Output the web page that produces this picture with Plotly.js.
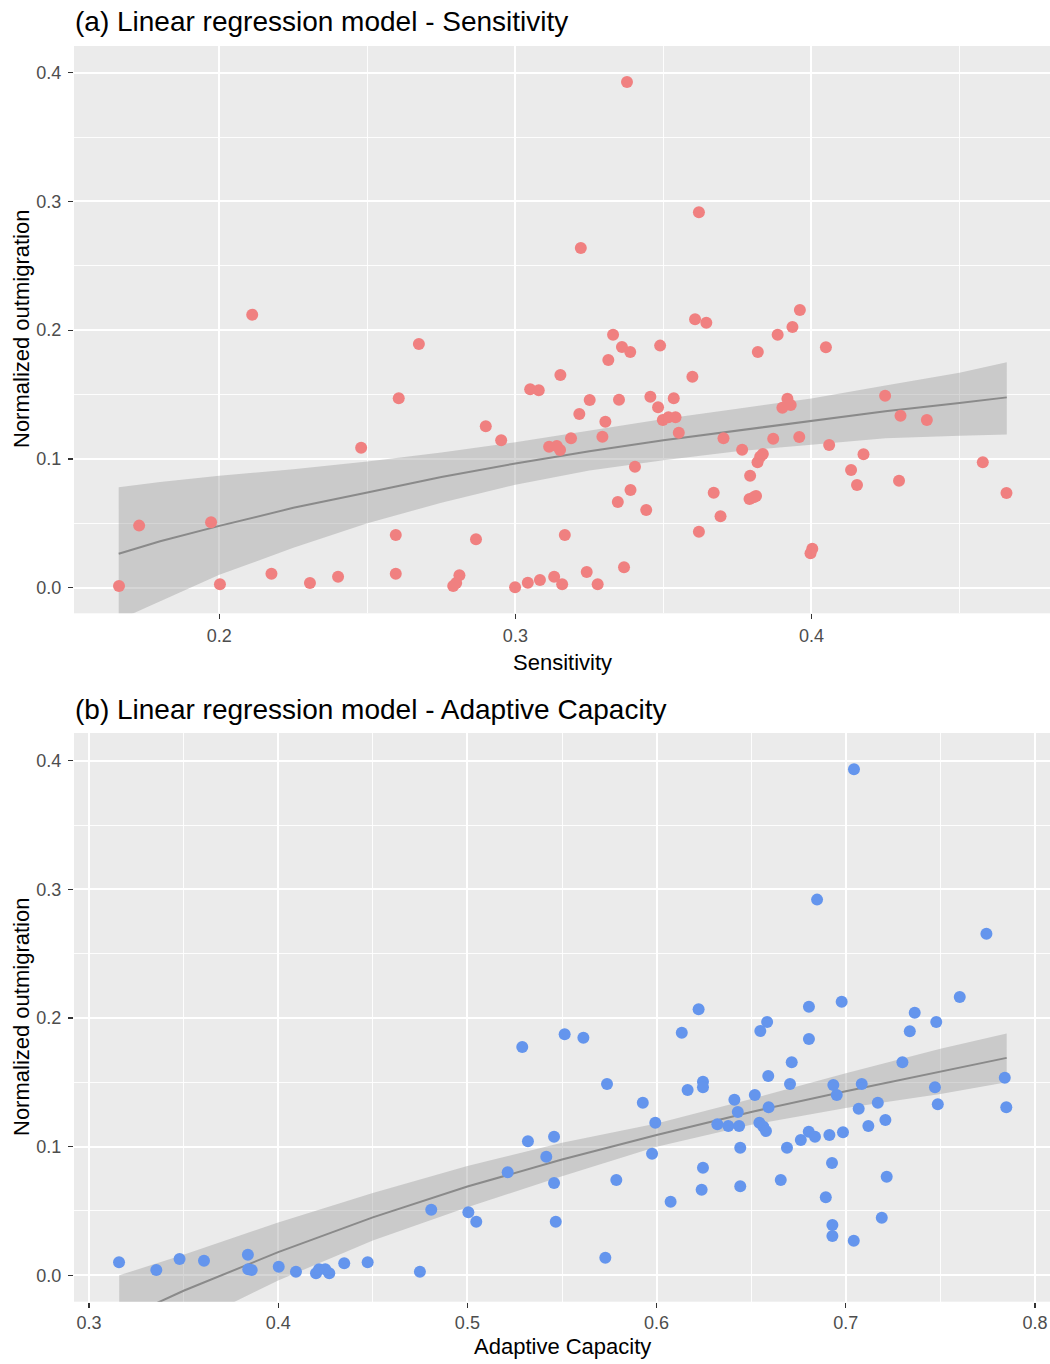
<!DOCTYPE html>
<html>
<head>
<meta charset="utf-8">
<script src="https://cdn.plot.ly/plotly-3.0.1.min.js"></script>
<style>
  html, body { margin: 0; padding: 0; background: #ffffff; }
  #chart { width: 1050px; height: 1364px; }
</style>
</head>
<body>
<div id="chart"></div>
<script>
// ---------- Panel (a): Sensitivity ----------
const sensX = [0.1661, 0.1729, 0.1972, 0.2111, 0.2002, 0.2176, 0.2306, 0.2401, 0.2479, 0.2606,
  0.2596, 0.2596, 0.2674, 0.2790, 0.2800, 0.2811, 0.2867, 0.2900, 0.2952, 0.2999,
  0.3042, 0.3083, 0.3131, 0.3158, 0.3050, 0.3079, 0.3114, 0.3140, 0.3151, 0.3152,
  0.3167, 0.3188, 0.3216, 0.3221, 0.3251, 0.3241, 0.3278, 0.3294, 0.3304, 0.3314,
  0.3330, 0.3360, 0.3388, 0.3350, 0.3346, 0.3367, 0.3389, 0.3404, 0.3442, 0.3456,
  0.3482, 0.3489, 0.3498, 0.3517, 0.3541, 0.3535, 0.3552, 0.3598, 0.3607, 0.3645,
  0.3620, 0.3620, 0.3670, 0.3693, 0.3703, 0.3766, 0.3793, 0.3791, 0.3805, 0.3813,
  0.3818, 0.3827, 0.3836, 0.3819, 0.3871, 0.3886, 0.3902, 0.3919, 0.3930, 0.3936,
  0.3961, 0.3959, 0.3997, 0.4003, 0.4049, 0.4060, 0.4134, 0.4176, 0.4154, 0.4249,
  0.4296, 0.4301, 0.4390, 0.4579, 0.4659, 0.3377];
const sensY = [0.0013, 0.0482, 0.0508, 0.2120, 0.0026, 0.0109, 0.0037, 0.0085, 0.1087, 0.1471,
  0.0409, 0.0109, 0.1893, 0.0013, 0.0037, 0.0096, 0.0376, 0.1254, 0.1145, 0.0003,
  0.0039, 0.0060, 0.0085, 0.0026, 0.1541, 0.1533, 0.1095, 0.1101, 0.1070, 0.1652,
  0.0409, 0.1160, 0.1349, 0.2638, 0.1458, 0.0122, 0.0026, 0.1173, 0.1289, 0.1769,
  0.1965, 0.1870, 0.1831, 0.1460, 0.0666, 0.0158, 0.0759, 0.0940, 0.0603, 0.1483,
  0.1401, 0.1880, 0.1302, 0.1323, 0.1323, 0.1471, 0.1204, 0.1639, 0.2085, 0.2058,
  0.2916, 0.0435, 0.0738, 0.0555, 0.1160, 0.1072, 0.0870, 0.0689, 0.0702, 0.0712,
  0.0974, 0.1017, 0.1038, 0.1831, 0.1157, 0.1965, 0.1398, 0.1468, 0.1419, 0.2025,
  0.2157, 0.1170, 0.0267, 0.0303, 0.1867, 0.1108, 0.0914, 0.1036, 0.0798, 0.1491,
  0.0831, 0.1336, 0.1303, 0.0974, 0.0736, 0.3928];

// fitted curve and confidence band
const fitSensX  = [0.166, 0.18, 0.2, 0.225, 0.25, 0.275, 0.3, 0.325, 0.35, 0.375, 0.4, 0.425, 0.45, 0.466];
const fitSensY  = [0.0264, 0.036, 0.048, 0.062, 0.074, 0.086, 0.0965, 0.106, 0.1145, 0.122, 0.130, 0.137, 0.1435, 0.1478];
const fitSensHi = [0.078, 0.082, 0.087, 0.092, 0.098, 0.105, 0.113, 0.122, 0.131, 0.139, 0.147, 0.157, 0.167, 0.175];
const fitSensLo = [-0.025, -0.011, 0.010, 0.031, 0.050, 0.066, 0.080, 0.091, 0.099, 0.106, 0.111, 0.116, 0.118, 0.119];

// ---------- Panel (b): Adaptive Capacity ----------
const adapX = [0.3159, 0.3356, 0.3479, 0.3608, 0.3840, 0.3842, 0.3860, 0.4003, 0.4094, 0.4200,
  0.4216, 0.4249, 0.4270, 0.4349, 0.4473, 0.4749, 0.4809, 0.5005, 0.5047, 0.5213,
  0.5290, 0.5320, 0.5417, 0.5458, 0.5458, 0.5467, 0.5514, 0.5613, 0.5738, 0.5729,
  0.5787, 0.5927, 0.5993, 0.5976, 0.6074, 0.6133, 0.6164, 0.6222, 0.6245, 0.6245,
  0.6245, 0.6238, 0.6321, 0.6379, 0.6436, 0.6411, 0.6429, 0.6442, 0.6442, 0.6519,
  0.6548, 0.6584, 0.6543, 0.6564, 0.6578, 0.6590, 0.6592, 0.6656, 0.6689, 0.6705,
  0.6714, 0.6762, 0.6804, 0.6837, 0.6805, 0.6805, 0.6848, 0.6913, 0.6894, 0.6927,
  0.6929, 0.6929, 0.6934, 0.6952, 0.6978, 0.6985, 0.7043, 0.7042, 0.7068, 0.7084,
  0.7119, 0.7169, 0.7190, 0.7209, 0.7216, 0.7299, 0.7338, 0.7364, 0.7471, 0.7478,
  0.7486, 0.7602, 0.7743, 0.7840, 0.7848];
const adapY = [0.0101, 0.0041, 0.0127, 0.0113, 0.0160, 0.0047, 0.0041, 0.0067, 0.0028, 0.0016,
  0.0047, 0.0047, 0.0016, 0.0093, 0.0101, 0.0028, 0.0510, 0.0490, 0.0417, 0.0801,
  0.1775, 0.1042, 0.0922, 0.1077, 0.0717, 0.0417, 0.1873, 0.1847, 0.1487, 0.0137,
  0.0741, 0.1342, 0.1186, 0.0945, 0.0572, 0.1886, 0.1440, 0.2068, 0.1505, 0.1461,
  0.0836, 0.0665, 0.1174, 0.1160, 0.1160, 0.1365, 0.1269, 0.0992, 0.0692, 0.1401,
  0.1899, 0.1969, 0.1186, 0.1155, 0.1122, 0.1549, 0.1306, 0.0741, 0.0992, 0.1487,
  0.1656, 0.1052, 0.1116, 0.1077, 0.2088, 0.1837, 0.2920, 0.1091, 0.0606, 0.0873,
  0.0391, 0.0305, 0.1479, 0.1401, 0.2127, 0.1112, 0.3933, 0.0269, 0.1295, 0.1487,
  0.1160, 0.1342, 0.0448, 0.1207, 0.0766, 0.1656, 0.1897, 0.2041, 0.1461, 0.1969,
  0.1329, 0.2163, 0.2655, 0.1536, 0.1306];

// fitted curve and confidence band
const fitAdapX  = [0.316, 0.35, 0.4, 0.45, 0.5, 0.55, 0.6, 0.65, 0.7, 0.75, 0.785];
const fitAdapY  = [-0.035, -0.012, 0.018, 0.045, 0.069, 0.090, 0.109, 0.127, 0.143, 0.158, 0.169];
const fitAdapHi = [0.000, 0.016, 0.041, 0.064, 0.085, 0.103, 0.118, 0.137, 0.157, 0.176, 0.188];
const fitAdapLo = [-0.070, -0.040, -0.004, 0.027, 0.053, 0.077, 0.100, 0.117, 0.130, 0.141, 0.150];

// ---------- text ----------
const titleA = "(a) Linear regression model - Sensitivity";
const titleB = "(b) Linear regression model - Adaptive Capacity";
const xTitleA = "Sensitivity";
const xTitleB = "Adaptive Capacity";
const yTitle = "Normalized outmigration";

// ---------- styling ----------
const FONT = "Liberation Sans, Arial, Helvetica, sans-serif";
const W = 1050, H = 1364;
const px = v => v / W;
const py = v => 1 - v / H;

function bandTrace(xs, hi, lo, xa, ya) {
  return {
    type: 'scatter', mode: 'lines', xaxis: xa, yaxis: ya,
    x: xs.concat(xs.slice().reverse()),
    y: hi.concat(lo.slice().reverse()),
    fill: 'toself', fillcolor: 'rgba(153,153,153,0.4)',
    line: { width: 0, color: 'rgba(0,0,0,0)' }, hoverinfo: 'skip'
  };
}
function lineTrace(xs, ys, xa, ya) {
  return {
    type: 'scatter', mode: 'lines', xaxis: xa, yaxis: ya,
    x: xs, y: ys, line: { color: 'rgb(138,138,138)', width: 2 }
  };
}
function pointTrace(xs, ys, color, xa, ya) {
  return {
    type: 'scatter', mode: 'markers', xaxis: xa, yaxis: ya,
    x: xs, y: ys, marker: { color: color, size: 12, line: { width: 0 } },
    cliponaxis: true
  };
}

const data = [
  bandTrace(fitSensX, fitSensHi, fitSensLo, 'x', 'y'),
  lineTrace(fitSensX, fitSensY, 'x', 'y'),
  pointTrace(sensX, sensY, '#F08080', 'x', 'y'),
  bandTrace(fitAdapX, fitAdapHi, fitAdapLo, 'x2', 'y2'),
  lineTrace(fitAdapX, fitAdapY, 'x2', 'y2'),
  pointTrace(adapX, adapY, '#6495ED', 'x2', 'y2')
];

function axisBase() {
  return {
    showgrid: true, gridcolor: '#FFFFFF', gridwidth: 2,
    zeroline: false, showline: false,
    ticks: 'outside', ticklen: 5, tickwidth: 1.2, tickcolor: '#333333',
    tickfont: { family: FONT, size: 18, color: '#4D4D4D' },
    tickformat: '.1f', dtick: 0.1, tick0: 0,
    minor: { dtick: 0.05, showgrid: true, gridcolor: '#FFFFFF', gridwidth: 0.9, ticks: '' },
    fixedrange: true
  };
}

const xDom = [74 / W, 1];
const layout = {
  width: W, height: H,
  margin: { l: 0, r: 0, t: 0, b: 0, pad: 0 },
  paper_bgcolor: '#FFFFFF', plot_bgcolor: '#EBEBEB',
  showlegend: false,
  font: { family: FONT },
  xaxis: Object.assign(axisBase(), { domain: xDom, anchor: 'y', range: [0.1509, 0.4806], ticklabelstandoff: 1 }),
  yaxis: Object.assign(axisBase(), { domain: [py(613.3), py(46)], anchor: 'x', range: [-0.0199, 0.4207], ticklabelstandoff: 3 }),
  xaxis2: Object.assign(axisBase(), { domain: xDom, anchor: 'y2', range: [0.2921, 0.8079], ticklabelstandoff: 0 }),
  yaxis2: Object.assign(axisBase(), { domain: [py(1301.7), py(733)], anchor: 'x2', range: [-0.0205, 0.4215], ticklabelstandoff: 3 }),
  annotations: [
    { text: titleA, xref: 'paper', yref: 'paper', x: px(73), y: py(22), xanchor: 'left', yanchor: 'middle',
      showarrow: false, font: { family: FONT, size: 28, color: '#000000' } },
    { text: titleB, xref: 'paper', yref: 'paper', x: px(73), y: py(709), xanchor: 'left', yanchor: 'middle',
      showarrow: false, font: { family: FONT, size: 28, color: '#000000' } },
    { text: xTitleA, xref: 'paper', yref: 'paper', x: px(562.5), y: py(662), xanchor: 'center', yanchor: 'middle',
      showarrow: false, font: { family: FONT, size: 22, color: '#000000' } },
    { text: xTitleB, xref: 'paper', yref: 'paper', x: px(562.5), y: py(1346), xanchor: 'center', yanchor: 'middle',
      showarrow: false, font: { family: FONT, size: 22, color: '#000000' } },
    { text: yTitle, xref: 'paper', yref: 'paper', x: px(21), y: py(329), xanchor: 'center', yanchor: 'middle',
      textangle: -90, showarrow: false, font: { family: FONT, size: 22, color: '#000000' } },
    { text: yTitle, xref: 'paper', yref: 'paper', x: px(21), y: py(1017), xanchor: 'center', yanchor: 'middle',
      textangle: -90, showarrow: false, font: { family: FONT, size: 22, color: '#000000' } }
  ]
};

Plotly.newPlot('chart', data, layout, { staticPlot: true, displayModeBar: false });
</script>
</body>
</html>
